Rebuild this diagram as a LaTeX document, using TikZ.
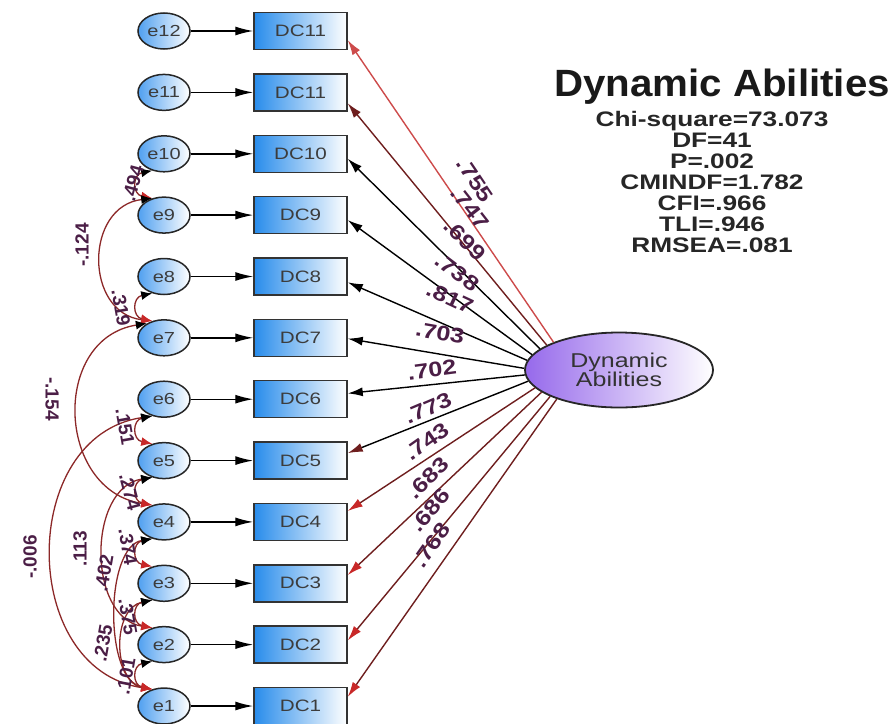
\documentclass[tikz,border=0pt]{standalone}
\usepackage{fontspec}
\setmainfont{Liberation Sans}
\newfontfamily\stretchfont{Liberation Sans}[FakeStretch=1.25]
\newfontfamily\titlefont{Liberation Sans}[FakeStretch=1.06]
\newfontfamily\labfont{Liberation Sans}[FakeStretch=1.2]
\usetikzlibrary{arrows.meta,shapes.geometric,calc}
\definecolor{boxblue}{RGB}{40,140,235}
\definecolor{eblue}{RGB}{80,160,240}
\definecolor{fpurple}{RGB}{150,105,235}
\definecolor{covred}{RGB}{140,40,40}
\definecolor{headred}{RGB}{200,40,40}
\definecolor{lblcol}{RGB}{75,30,70}
\definecolor{linered}{RGB}{205,75,75}
\definecolor{darkred}{RGB}{110,30,30}
\definecolor{txtgray}{RGB}{60,60,60}
\tikzset{
  enode/.style={ellipse, draw=black!85, line width=1.5pt, minimum width=52pt, minimum height=36pt, inner sep=0pt,
    left color=eblue, right color=white, text=txtgray, font=\stretchfont\fontsize{16}{18}\selectfont},
  dcbox/.style={rectangle, draw=black!80, line width=1.5pt, minimum width=93pt, minimum height=37pt, inner sep=0pt,
    left color=boxblue, right color=white, text=txtgray, font=\stretchfont\fontsize{16.5}{18}\selectfont},
  factor/.style={ellipse, draw=black!85, line width=1.8pt, minimum width=188pt, minimum height=75pt, inner sep=0pt,
    left color=fpurple, right color=white, text=black!80, align=center, font=\stretchfont\fontsize{20}{20}\selectfont},
  earrow/.style={draw=black, line width=1.4pt, -{Latex[length=18pt,width=9pt]}},
  load/.style={draw=black, line width=1.4pt, -{Latex[length=15pt,width=9pt]}},
  loadred/.style={draw=darkred, line width=1.4pt, -{Latex[length=15pt,width=9pt,color=headred]}},
  cov/.style={draw=covred, line width=1.3pt, {Latex[length=11pt,width=9pt,color=black]}-{Latex[length=11pt,width=9pt,color=headred]}},
  lbl/.style={text=lblcol, inner sep=0pt, font=\labfont\bfseries\fontsize{21}{21}\selectfont},
  clbl/.style={text=lblcol, inner sep=0pt, font=\bfseries\fontsize{19}{19}\selectfont},
}
\begin{document}
\begin{tikzpicture}[x=1pt,y=-1pt]
\useasboundingbox (0,0) rectangle (893,723);
% error terms
\node[enode] (e12) at (164,31) {e12};
\node[enode] (e11) at (164,92.4) {e11};
\node[enode] (e10) at (164,153.8) {e10};
\node[enode] (e9) at (164,215.1) {e9};
\node[enode] (e8) at (164,276.5) {e8};
\node[enode] (e7) at (164,337.8) {e7};
\node[enode] (e6) at (164,399.2) {e6};
\node[enode] (e5) at (164,460.6) {e5};
\node[enode] (e4) at (164,521.9) {e4};
\node[enode] (e3) at (164,583.3) {e3};
\node[enode] (e2) at (164,644.6) {e2};
\node[enode] (e1) at (164,706) {e1};
% observed
\node[dcbox] (d12) at (300.5,31) {DC11};
\node[dcbox] (d11) at (300.5,92.4) {DC11};
\node[dcbox] (d10) at (300.5,153.8) {DC10};
\node[dcbox] (d9) at (300.5,215.1) {DC9};
\node[dcbox] (d8) at (300.5,276.5) {DC8};
\node[dcbox] (d7) at (300.5,337.8) {DC7};
\node[dcbox] (d6) at (300.5,399.2) {DC6};
\node[dcbox] (d5) at (300.5,460.6) {DC5};
\node[dcbox] (d4) at (300.5,521.9) {DC4};
\node[dcbox] (d3) at (300.5,583.3) {DC3};
\node[dcbox] (d2) at (300.5,644.6) {DC2};
\node[dcbox] (d1) at (300.5,706) {DC1};
% factor
\node[factor] (F) at (619,370) {Dynamic\\[-1pt]Abilities};
% error arrows
\foreach \k in {1,...,12} {\draw[earrow] (e\k) -- (d\k);}
% loadings
\draw[load, draw=linered] (F.157) -- (d12.349);
\draw[load, draw=darkred] (F.161.4) -- (d11.347);
\draw[load] (F.165.8) -- (d10.354);
\draw[load] (F.170.2) -- (d9.354);
\draw[load] (F.174.6) -- (d8.353);
\draw[load] (F.179) -- (d7.359);
\draw[load] (F.183.4) -- (d6.7);
\draw[load, -{Latex[length=15pt,width=9pt,color=darkred]}] (F.187.8) -- (d5.9);
\draw[loadred] (F.192.2) -- (d4.13);
\draw[loadred] (F.196.6) -- (d3.10);
\draw[loadred] (F.201) -- (d2.5);
\draw[loadred] (F.205.4) -- (d1.11);
% loading labels
\node[lbl, rotate=-56] (l12) at (475,180) {.755};
\node[lbl, rotate=-52] (l11) at (470,208) {.747};
\node[lbl, rotate=-46] (l10) at (465,240) {.699};
\node[lbl, rotate=-37] (l9) at (457,272) {.738};
\node[lbl, rotate=-25] (l8) at (450,298) {.817};
\node[lbl, rotate=-10] (l7) at (440,333) {.703};
\node[lbl, rotate=7.5] (l6) at (432,370) {.702};
\node[lbl, rotate=23] (l5) at (428,408) {.773};
\node[lbl, rotate=35] (l4) at (427,442) {.743};
\node[lbl, rotate=44] (l3) at (428,478) {.683};
\node[lbl, rotate=50] (l2) at (430,510) {.686};
\node[lbl, rotate=55] (l1) at (432,545) {.768};
% covariances
\draw[cov] (e10.235) .. controls +(-20,4) and +(-20,-4) .. (e9.125);
\draw[cov] (e9.125) .. controls +(-68,8) and +(-68,-8) .. (e7.125);
\draw[cov] (e8.235) .. controls +(-20,4) and +(-20,-4) .. (e7.125);
\draw[cov] (e7.140) .. controls +(-96,15) and +(-96,-15) .. (e4.125);
\draw[cov] (e6.235) .. controls +(-20,4) and +(-20,-4) .. (e5.125);
\draw[cov] (e6.235) .. controls +(-134,20) and +(-134,-20) .. (e1.125);
\draw[cov] (e5.235) .. controls +(-20,4) and +(-20,-4) .. (e4.125);
\draw[cov] (e5.235) .. controls +(-65,10) and +(-65,-10) .. (e2.125);
\draw[cov] (e4.235) .. controls +(-20,4) and +(-20,-4) .. (e3.125);
\draw[cov] (e4.235) .. controls +(-48,8) and +(-48,-8) .. (e1.125);
\draw[cov] (e3.235) .. controls +(-20,4) and +(-20,-4) .. (e2.125);
\draw[cov] (e3.235) .. controls +(-40,8) and +(-40,-8) .. (e1.125);
\draw[cov] (e2.235) .. controls +(-20,4) and +(-20,-4) .. (e1.125);
% covariance labels
\node[clbl, rotate=75] (c1) at (133,183) {.494};
\node[clbl, rotate=90] (c2) at (82,245) {-.124};
\node[clbl, rotate=-80] (c3) at (121,308) {.319};
\node[clbl, rotate=-90] (c4) at (52,399) {-.154};
\node[clbl, rotate=-80] (c5) at (125,427) {.151};
\node[clbl, rotate=-75] (c6) at (130,492) {.274};
\node[clbl, rotate=90] (c7) at (30,557) {-.006};
\node[clbl, rotate=90] (c8) at (80,549) {.113};
\node[clbl, rotate=-80] (c9) at (128,547) {.374};
\node[clbl, rotate=80] (c10) at (104,573) {.402};
\node[clbl, rotate=-80] (c11) at (128,617) {.375};
\node[clbl, rotate=80] (c12) at (103,643) {.235};
\node[clbl, rotate=80] (c13) at (126,676) {.101};
% title and fit
\node[text=black!90, inner sep=0pt, font=\titlefont\bfseries\fontsize{38}{40}\selectfont] (title) at (722,87) {Dynamic Abilities};
\node[text=black!85, inner sep=0pt, align=center, font=\stretchfont\bfseries\fontsize{21}{21}\selectfont] (fit) at (712,182)
 {Chi-square=73.073\\DF=41\\P=.002\\CMINDF=1.782\\CFI=.966\\TLI=.946\\RMSEA=.081};
\end{tikzpicture}
\end{document}
